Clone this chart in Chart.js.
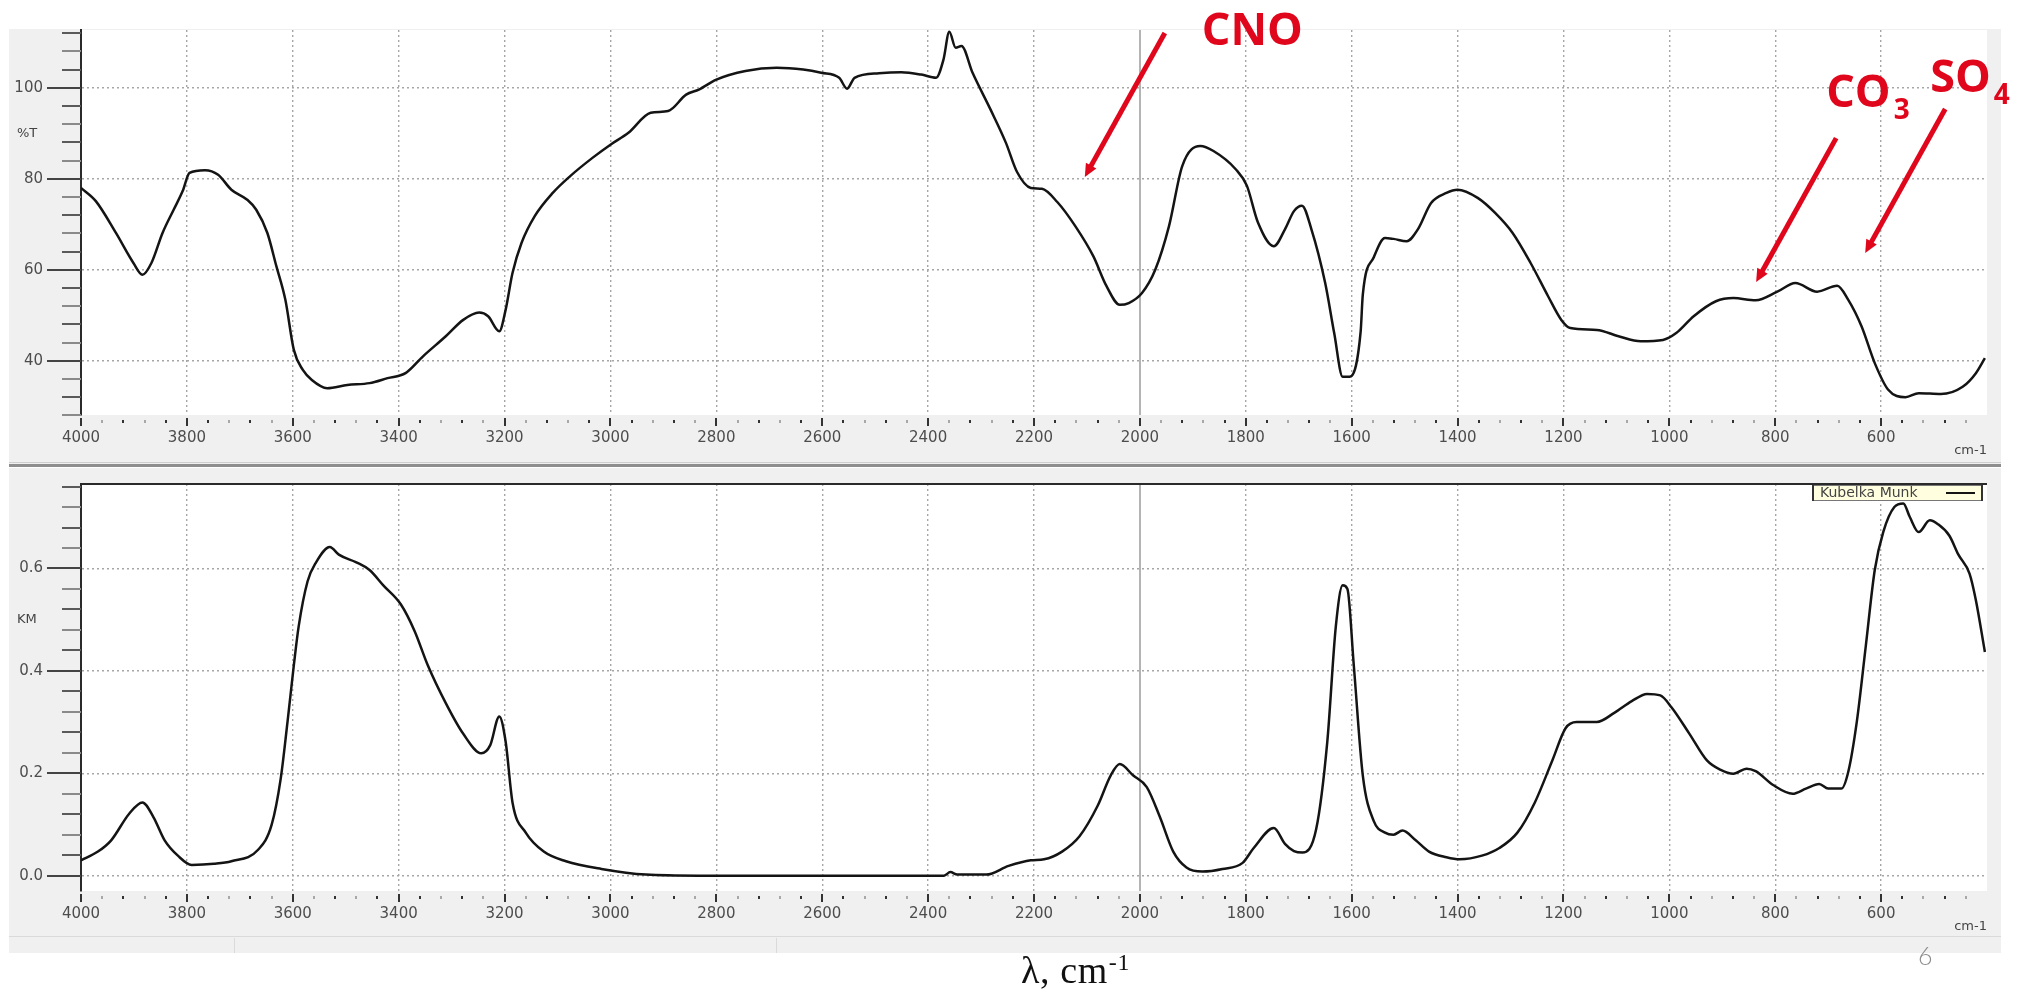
<!DOCTYPE html>
<html>
<head>
<meta charset="utf-8">
<script src="https://cdn.jsdelivr.net/npm/chart.js@4.4.0/dist/chart.umd.min.js"></script>
<style>
   html, body { margin: 0; padding: 0; background: #fff; }
   body { width: 2031px; height: 992px; position: relative; overflow: hidden; }
   .panel { position: absolute; left: 0; width: 2031px; }
   .panel--top { top: 0; height: 467px; }
   .panel--bottom { top: 467px; height: 525px; }
   .caption {
      position: absolute; left: 1021px; top: 951px; white-space: nowrap;
      font-family: "Liberation Serif", serif; font-size: 38px; line-height: 1; letter-spacing: 0.6px; color: #111;
   }
   .caption sup { font-size: 24px; vertical-align: baseline; position: relative; top: -13px; margin-left: 1px; }
   .page-number {
      position: absolute; left: 1918px; top: 943px;
      font-family: Lato, "Open Sans", sans-serif; font-weight: 300; font-size: 25px; line-height: 1; color: #8c8c8c;
   }
</style>
</head>
<body>
<div class="panel panel--top"><canvas id="transmittance" width="2031" height="467"></canvas></div>
<div class="panel panel--bottom"><canvas id="kubelka" width="2031" height="525"></canvas></div>
<div class="caption">λ, cm<sup>-1</sup></div>
<div class="page-number">6</div>

<script>
// transmittance spectrum (upper panel)
const topWavenumbers = [
   4000, 3972, 3934, 3901, 3884, 3867, 3846, 3825, 3808, 3795, 3766, 3741, 3716, 3686, 3669, 3648,
   3631, 3614, 3598, 3581, 3564, 3535, 3497, 3455, 3421, 3387, 3354, 3311, 3278, 3248, 3231, 3210,
   3198, 3185, 3168, 3143, 3109, 3076, 3034, 3000, 2966, 2924, 2891, 2857, 2833, 2800, 2745, 2686,
   2636, 2602, 2568, 2553, 2539, 2493, 2451, 2413, 2385, 2371, 2360, 2348, 2337, 2316, 2282, 2253,
   2232, 2206, 2185, 2156, 2122, 2088, 2063, 2038, 2021, 1996, 1971, 1945, 1920, 1886, 1861, 1819,
   1798, 1777, 1747, 1726, 1709, 1694, 1676, 1650, 1633, 1617, 1604, 1583, 1579, 1558, 1537, 1521,
   1496, 1475, 1450, 1421, 1400, 1362, 1329, 1296, 1262, 1229, 1204, 1187, 1137, 1096, 1054, 1012,
   987, 954, 912, 879, 837, 796, 762, 721, 683, 662, 637, 612, 587, 554, 529, 487,
   446, 421, 404,
];
const transmittance = [
   78.0, 75.1, 68.1, 61.5, 58.9, 61.5, 68.1, 73.2, 77.3, 81.3, 81.9, 80.9, 77.6, 75.4, 73.2, 68.1,
   60.8, 53.4, 42.4, 38.0, 35.8, 34.0, 34.7, 35.1, 36.2, 37.3, 41.0, 45.4, 49.0, 50.6, 49.8, 46.5,
   51.2, 59.3, 65.9, 71.8, 76.9, 80.6, 84.6, 87.5, 90.1, 94.5, 94.9, 98.5, 99.6, 101.8, 103.7, 104.4,
   104.0, 103.3, 102.2, 99.8, 102.2, 103.2, 103.4, 102.9, 102.2, 106.2, 112.3, 108.8, 109.2, 103.3, 95.2, 87.9,
   81.5, 78.0, 77.8, 74.9, 69.6, 63.0, 56.4, 52.3, 52.7, 54.9, 60.0, 69.6, 82.8, 87.2, 86.1, 82.1,
   78.5, 70.4, 65.2, 68.9, 72.9, 74.1, 68.9, 57.1, 46.1, 36.5, 36.5, 46.5, 54.5, 62.8, 67.0, 66.8,
   66.3, 68.9, 74.7, 76.9, 77.6, 75.8, 72.5, 68.1, 61.5, 54.2, 49.0, 47.2, 46.8, 45.4, 44.3, 44.6,
   46.1, 49.8, 53.1, 53.8, 53.3, 55.2, 57.1, 55.2, 56.5, 53.4, 47.6, 39.5, 33.7, 32.0, 32.9, 32.7,
   34.3, 37.3, 40.6,
];

// Kubelka-Munk spectrum (lower panel)
const bottomWavenumbers = [
   4000, 3968, 3943, 3909, 3884, 3863, 3842, 3817, 3791, 3749, 3716, 3665, 3640, 3623, 3610, 3598,
   3589, 3572, 3556, 3530, 3513, 3480, 3455, 3429, 3396, 3370, 3345, 3311, 3278, 3244, 3227, 3210,
   3198, 3185, 3160, 3126, 3084, 3017, 2933, 2833, 2600, 2370, 2358, 2345, 2290, 2248, 2206, 2181,
   2147, 2114, 2080, 2055, 2038, 2013, 1987, 1962, 1937, 1912, 1882, 1844, 1806, 1785, 1747, 1726,
   1709, 1693, 1667, 1646, 1630, 1617, 1608, 1596, 1579, 1558, 1537, 1521, 1504, 1479, 1454, 1421,
   1396, 1354, 1321, 1287, 1254, 1221, 1196, 1175, 1137, 1104, 1071, 1042, 1017, 996, 962, 929,
   904, 879, 854, 837, 804, 767, 742, 717, 700, 675, 662, 646, 629, 612, 596, 575,
   558, 546, 529, 508, 492, 471, 454, 433, 421, 404,
];
const kubelkaMunk = [
   0.030, 0.047, 0.069, 0.121, 0.143, 0.114, 0.069, 0.039, 0.021, 0.023, 0.028, 0.051, 0.099, 0.188, 0.300, 0.411,
   0.486, 0.575, 0.612, 0.642, 0.627, 0.612, 0.597, 0.567, 0.530, 0.478, 0.411, 0.337, 0.277, 0.239, 0.255, 0.311,
   0.262, 0.143, 0.084, 0.047, 0.028, 0.013, 0.002, 0.000, 0.000, 0.000, 0.007, 0.002, 0.002, 0.019, 0.030, 0.032,
   0.047, 0.077, 0.136, 0.196, 0.218, 0.196, 0.173, 0.114, 0.047, 0.016, 0.008, 0.013, 0.025, 0.054, 0.093, 0.062,
   0.048, 0.045, 0.091, 0.262, 0.486, 0.567, 0.560, 0.411, 0.196, 0.106, 0.084, 0.080, 0.088, 0.069, 0.047, 0.036,
   0.032, 0.039, 0.054, 0.084, 0.143, 0.225, 0.288, 0.300, 0.300, 0.318, 0.341, 0.355, 0.352, 0.329, 0.277, 0.225,
   0.207, 0.199, 0.209, 0.204, 0.177, 0.160, 0.170, 0.179, 0.170, 0.170, 0.203, 0.300, 0.448, 0.597, 0.671, 0.720,
   0.727, 0.701, 0.671, 0.694, 0.686, 0.664, 0.627, 0.590, 0.538, 0.437,
];

// tick labels
const wavenumberTicks = [4000, 3800, 3600, 3400, 3200, 3000, 2800, 2600, 2400, 2200, 2000, 1800, 1600, 1400, 1200, 1000, 800, 600];
const transmittanceTicks = [40, 60, 80, 100];
const kubelkaTicks = [0, 0.2, 0.4, 0.6];

// marked bands (arrow tips)
const bandLabels = ["CNO", "CO", "SO"];
const bandSubscripts = ["", "3", "4"];
const bandWavenumbers = [2104, 836, 630];
const bandTransmittance = [80.4, 57.3, 63.7];

const PLOT_LEFT = 81;
const PLOT_RIGHT = 1987;
const CANVAS_WIDTH = 2031;
const PANEL_LEFT = 9;
const PANEL_WIDTH = 1992;

Chart.defaults.font.family = "'DejaVu Sans', sans-serif";

const toPoints = (xs, ys) => xs.map((x, i) => ({ x, y: ys[i] }));

const isMultiple = (v, step) => Math.abs(v / step - Math.round(v / step)) < 1e-6;

// grey frame, white plot area, ticks, axis names
const panelPlugin = {
   id: "panel",
   beforeDraw(chart, args, opts) {
      const { ctx, chartArea } = chart;
      ctx.save();
      ctx.fillStyle = "#f0f0f0";
      ctx.fillRect(PANEL_LEFT, opts.top, PANEL_WIDTH, opts.bottom - opts.top);
      if (opts.statusBar) {
         ctx.fillStyle = "#dadada";
         ctx.fillRect(PANEL_LEFT, opts.statusBar, PANEL_WIDTH, 1);
         ctx.fillRect(234, opts.statusBar + 2, 1, opts.bottom - opts.statusBar - 2);
         ctx.fillRect(776, opts.statusBar + 2, 1, opts.bottom - opts.statusBar - 2);
      }
      ctx.fillStyle = "#ffffff";
      ctx.fillRect(chartArea.left, chartArea.top, chartArea.right - chartArea.left, chartArea.bottom - chartArea.top);
      ctx.restore();
   },
   beforeDatasetsDraw(chart) {
      const { ctx, chartArea, scales } = chart;
      // cursor line at 2000
      const px = Math.round(scales.x.getPixelForValue(2000));
      ctx.save();
      ctx.strokeStyle = "#b4b4b4";
      ctx.lineWidth = 2;
      ctx.beginPath();
      ctx.moveTo(px, chartArea.top);
      ctx.lineTo(px, chartArea.bottom);
      ctx.stroke();
      ctx.restore();
   },
   afterDraw(chart, args, opts) {
      const { ctx, chartArea, scales } = chart;
      const { x, y } = scales;
      ctx.save();
      ctx.lineWidth = 2;

      // y ticks
      const count = Math.round((opts.yTo - opts.yFrom) / opts.yStep);
      for (let i = 0; i <= count; i++) {
         const v = opts.yFrom + i * opts.yStep;
         const py = Math.round(y.getPixelForValue(v));
         const major = isMultiple(v, opts.yMajor);
         ctx.strokeStyle = major ? "#444" : i % 2 ? "#5a5a5a" : "#8a8a8a";
         ctx.beginPath();
         ctx.moveTo(chartArea.left - (major ? 34 : 19), py);
         ctx.lineTo(chartArea.left, py);
         ctx.stroke();
      }

      // x ticks
      for (let v = 4000; v >= 440; v -= 40) {
         const px = Math.round(x.getPixelForValue(v));
         const major = v % 200 === 0;
         ctx.strokeStyle = major ? "#333" : (v / 40) % 2 ? "#a8a8a8" : "#333";
         ctx.beginPath();
         ctx.moveTo(px, chartArea.bottom + (major ? 3 : 5));
         ctx.lineTo(px, chartArea.bottom + (major ? 11 : 8));
         ctx.stroke();
      }

      if (opts.frameTop) {
         ctx.strokeStyle = "#2a2a2a";
         ctx.beginPath();
         ctx.moveTo(chartArea.left, chartArea.top);
         ctx.lineTo(chartArea.right, chartArea.top);
         ctx.stroke();
      }

      if (opts.separator) {
         ctx.fillStyle = "#cfcfcf";
         ctx.fillRect(PANEL_LEFT, opts.separator - 2, PANEL_WIDTH, 1);
         ctx.fillStyle = "#8e8e8e";
         ctx.fillRect(PANEL_LEFT, opts.separator, PANEL_WIDTH, 3);
      }

      // axis names
      ctx.fillStyle = "#444";
      ctx.font = "13px 'DejaVu Sans'";
      ctx.textBaseline = "middle";
      ctx.textAlign = "left";
      ctx.fillText(opts.yTitle, 17, y.getPixelForValue(opts.yTitleAt));
      ctx.textAlign = "right";
      ctx.fillText("cm-1", chartArea.right, chartArea.bottom + 36);
      ctx.restore();
   },
};

// boxed legend in the top-right corner of the plot
const boxLegendPlugin = {
   id: "boxLegend",
   afterDraw(chart, args, opts) {
      if (!opts.show) return;
      const { ctx, chartArea } = chart;
      const dataset = chart.data.datasets[0];
      const x0 = chartArea.right - 175;
      const y0 = chartArea.top + 1;
      ctx.save();
      ctx.fillStyle = "#ffffe0";
      ctx.fillRect(x0, y0, 171, 16);
      ctx.strokeStyle = "#777";
      ctx.lineWidth = 1;
      ctx.strokeRect(x0 + 0.5, y0 + 0.5, 170, 15);
      ctx.fillStyle = "#333";
      ctx.fillRect(x0, y0, 2, 16);
      ctx.fillRect(x0 + 169, y0, 2, 16);
      ctx.font = "14px 'DejaVu Sans'";
      ctx.textBaseline = "middle";
      ctx.fillStyle = "#444";
      ctx.fillText(dataset.label, x0 + 8, y0 + 8);
      ctx.strokeStyle = dataset.borderColor;
      ctx.lineWidth = 2;
      ctx.beginPath();
      ctx.moveTo(x0 + 134, y0 + 8);
      ctx.lineTo(x0 + 163, y0 + 8);
      ctx.stroke();
      ctx.restore();
   },
};

// red arrows and labels for the marked bands
const bandPlugin = {
   id: "bands",
   afterDraw(chart, args, opts) {
      if (!opts.show) return;
      const { ctx, scales } = chart;
      ctx.save();
      ctx.strokeStyle = ctx.fillStyle = "#e0061c";
      ctx.lineWidth = 5;
      bandLabels.forEach((label, i) => {
         const tipX = scales.x.getPixelForValue(bandWavenumbers[i]);
         const tipY = scales.y.getPixelForValue(bandTransmittance[i]);
         const tailX = tipX + 80;
         const tailY = tipY - 144;
         const a = Math.atan2(tipY - tailY, tipX - tailX);
         const cos = Math.cos(a);
         const sin = Math.sin(a);
         ctx.beginPath();
         ctx.moveTo(tailX, tailY);
         ctx.lineTo(tipX - cos * 9, tipY - sin * 9);
         ctx.stroke();
         ctx.beginPath();
         ctx.moveTo(tipX, tipY);
         ctx.lineTo(tipX - cos * 13 + sin * 6, tipY - sin * 13 - cos * 6);
         ctx.lineTo(tipX - cos * 13 - sin * 6, tipY - sin * 13 + cos * 6);
         ctx.closePath();
         ctx.fill();

         const [dx, dy] = opts.textOffsets[i];
         ctx.textBaseline = "alphabetic";
         ctx.textAlign = "left";
         ctx.font = "bold 45px 'Open Sans'";
         ctx.fillText(label, tipX + dx, tipY + dy);
         if (bandSubscripts[i]) {
            const w = ctx.measureText(label).width;
            ctx.font = "bold 28px 'Open Sans'";
            ctx.fillText(bandSubscripts[i], tipX + dx + w + 3, tipY + dy + 12);
         }
      });
      ctx.restore();
   },
};

const createSpectrumChart = (canvas, settings) => {
   const data = {
      datasets: [
         {
            label: settings.label,
            data: toPoints(settings.wavenumbers, settings.values),
            borderColor: "#141414",
            borderWidth: 2.5,
            pointRadius: 0,
            cubicInterpolationMode: "monotone",
         },
      ],
   };

   const config = {
      type: "line",
      data: data,
      options: {
         responsive: false,
         animation: false,
         devicePixelRatio: 1,
         events: [],
         layout: { padding: { left: 0, top: settings.padTop, right: CANVAS_WIDTH - PLOT_RIGHT, bottom: 0 } },
         scales: {
            x: {
               type: "linear",
               min: 400,
               max: 4000,
               reverse: true,
               afterBuildTicks: (axis) => {
                  axis.ticks = wavenumberTicks.map((value) => ({ value }));
               },
               afterFit: (axis) => {
                  axis.height = settings.xAxisHeight;
                  axis.paddingLeft = 0;
                  axis.paddingRight = 0;
               },
               ticks: {
                  autoSkip: false,
                  maxRotation: 0,
                  padding: 14,
                  color: "#4d4d4d",
                  font: { size: 15 },
                  callback: (v) => String(v),
               },
               grid: {
                  drawTicks: false,
                  lineWidth: 1.4,
                  color: (ctx) => (ctx.tick && ctx.tick.value === 4000 ? "rgba(0,0,0,0)" : "#a6a6a6"),
               },
               border: { display: false, dash: [2, 3] },
            },
            y: {
               min: settings.yMin,
               max: settings.yMax,
               afterBuildTicks: (axis) => {
                  axis.ticks = settings.yTicks.map((value) => ({ value }));
               },
               afterFit: (axis) => {
                  axis.width = PLOT_LEFT;
                  axis.paddingTop = 0;
                  axis.paddingBottom = 0;
               },
               ticks: {
                  padding: 38,
                  color: "#4d4d4d",
                  font: { size: 15 },
                  callback: settings.tickFormat,
               },
               grid: { drawTicks: false, lineWidth: 1.4, color: "#a6a6a6" },
               border: { display: true, color: "#2a2a2a", width: 2, dash: [2, 3] },
            },
         },
         plugins: {
            legend: { display: false },
            tooltip: { enabled: false },
            panel: settings.panel,
            boxLegend: { show: settings.boxLegend },
            bands: settings.bands,
         },
      },
      plugins: [panelPlugin, boxLegendPlugin, bandPlugin],
   };

   return new Chart(canvas, config);
};

createSpectrumChart(document.getElementById("transmittance"), {
   label: "%T",
   wavenumbers: topWavenumbers,
   values: transmittance,
   yMin: 28.1,
   yMax: 112.7,
   yTicks: transmittanceTicks,
   tickFormat: (v) => String(v),
   padTop: 30,
   xAxisHeight: 52,
   boxLegend: false,
   panel: { top: 29, bottom: 465, yFrom: 28, yTo: 112, yStep: 4, yMajor: 20, yTitle: "%T", yTitleAt: 90, separator: 464 },
   bands: { show: true, textOffsets: [[117, -132], [70, -175], [65, -161]] },
});

createSpectrumChart(document.getElementById("kubelka"), {
   label: "Kubelka Munk",
   wavenumbers: bottomWavenumbers,
   values: kubelkaMunk,
   yMin: -0.03,
   yMax: 0.765,
   yTicks: kubelkaTicks,
   tickFormat: (v) => v.toFixed(1),
   padTop: 17,
   xAxisHeight: 101,
   boxLegend: true,
   panel: { top: 1, bottom: 486, yFrom: 0, yTo: 0.76, yStep: 0.04, yMajor: 0.2, yTitle: "KM", yTitleAt: 0.5, frameTop: true, statusBar: 469 },
   bands: { show: false },
});
</script>
</body>
</html>
